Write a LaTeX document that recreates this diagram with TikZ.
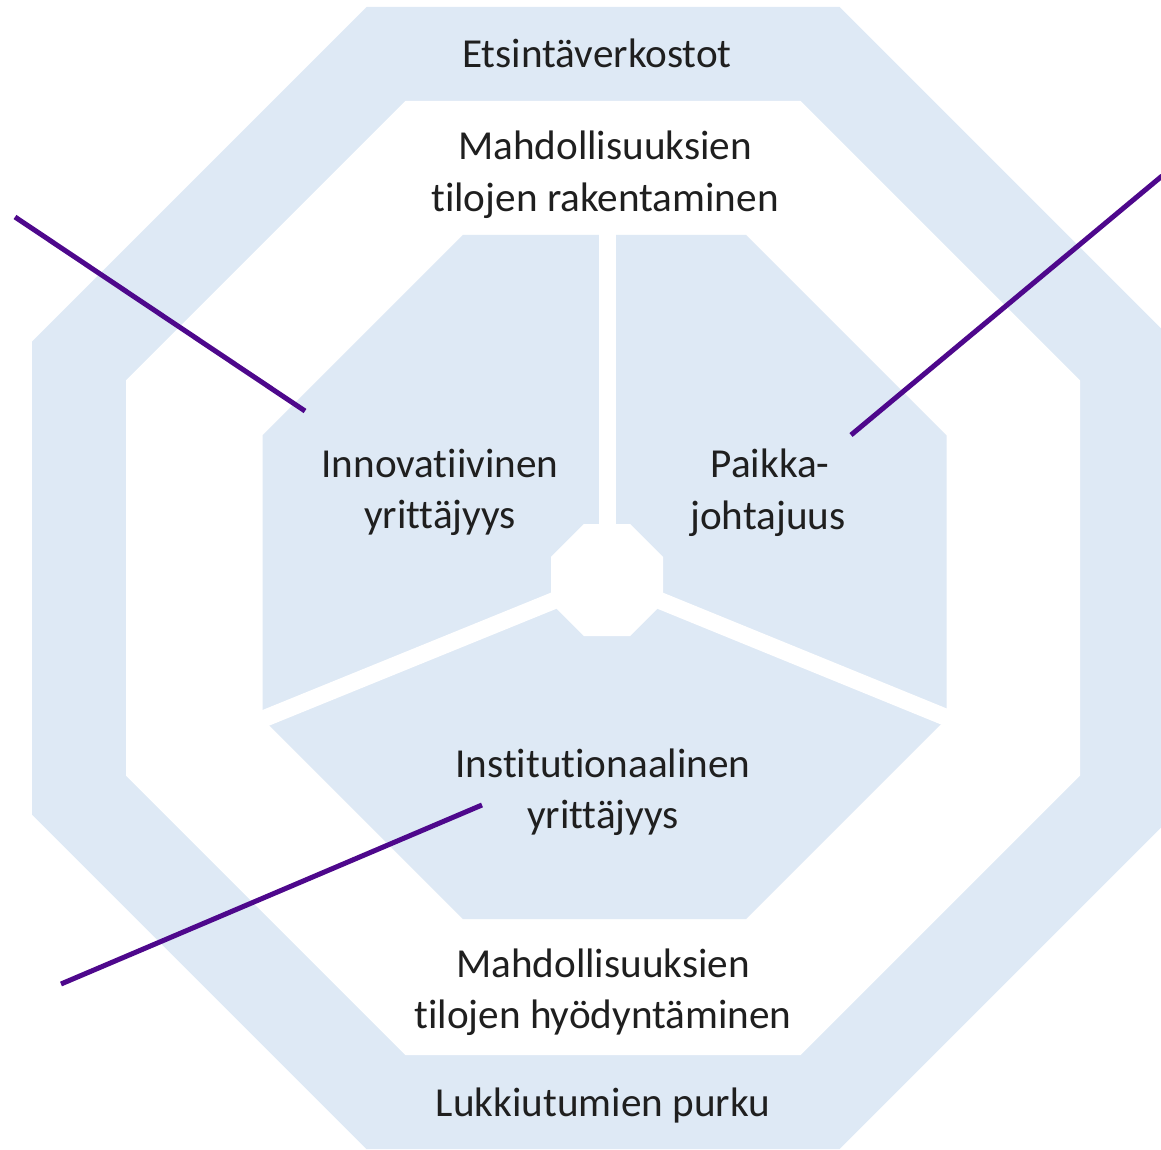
\documentclass[tikz,border=0pt]{standalone}
\usepackage{fontspec}
\setmainfont[Ligatures=CommonOff]{Carlito}
\definecolor{ringblue}{RGB}{222,233,245}
\definecolor{linepurple}{RGB}{78,8,140}
\begin{document}
\begin{tikzpicture}[x=0.5pt,y=-0.5pt,
  lbl/.style={anchor=base,inner sep=0pt,font=\fontsize{20.6}{26}\selectfont,text=black!88},
  pline/.style={draw=linepurple,line width=2.5pt},
  gap/.style={draw=white,line width=8.5pt}]
\useasboundingbox (0,0) rectangle (1161,1150);
\begin{scope}
\clip (0,0) rectangle (1161,1150);
% outer blue ring
\fill[ringblue] (366.5,7) -- (839.5,7) -- (1174,341.5) -- (1174,814.5) -- (839.5,1149) -- (366.5,1149) -- (32,814.5) -- (32,341.5) -- cycle;
\fill[white] (405.4,101) -- (800.6,101) -- (1080,380.4) -- (1080,775.6) -- (800.6,1055) -- (405.4,1055) -- (126,775.6) -- (126,380.4) -- cycle;
% inner blue octagon
\fill[ringblue] (462.8,235) -- (746.2,235) -- (946.5,435.3) -- (946.5,718.7) -- (746.2,919) -- (462.8,919) -- (262.5,718.7) -- (262.5,435.3) -- cycle;
% white gaps
\coordinate (ctr) at (607,579);
\coordinate (gtop) at (607,225);
\coordinate (gleft) at (231,732);
\coordinate (gright) at (977,730);
\draw[gap] (ctr) -- (gtop);
\draw[gap] (ctr) -- (gleft);
\draw[gap] (ctr) -- (gright);
\fill[white] (583.8,524) -- (630.2,524) -- (663,556.8) -- (663,603.2) -- (630.2,636) -- (583.8,636) -- (551,603.2) -- (551,556.8) -- cycle;
\end{scope}
% texts
\node[lbl] (t1) at (597,68) {Etsintäverkostot};
\node[lbl] (t2a) at (605,160) {Mahdollisuuksien};
\node[lbl] (t2b) at (605,212) {tilojen rakentaminen};
\node[lbl] (t3a) at (440,477) {Innovatiivinen};
\node[lbl] (t3b) at (440,528) {yrittäjyys};
\node[lbl] (t4a) at (770,477) {Paikka-};
\node[lbl] (t4b) at (768,529) {johtajuus};
\node[lbl] (t5a) at (603,777) {Institutionaalinen};
\node[lbl] (t5b) at (603,828) {yrittäjyys};
\node[lbl] (t6a) at (603,977) {Mahdollisuuksien};
\node[lbl] (t6b) at (603,1028) {tilojen hyödyntäminen};
\node[lbl] (t7) at (603,1116) {Lukkiutumien purku};
% purple lines
\coordinate (l1a) at (15,217);
\coordinate (l1b) at (305,411);
\coordinate (l2a) at (1162,176);
\coordinate (l2b) at (851,435);
\coordinate (l3a) at (61,984);
\coordinate (l3b) at (482,805);
\draw[pline] (l1a) -- (l1b);
\draw[pline] (l2a) -- (l2b);
\draw[pline] (l3a) -- (l3b);
\end{tikzpicture}
\end{document}
